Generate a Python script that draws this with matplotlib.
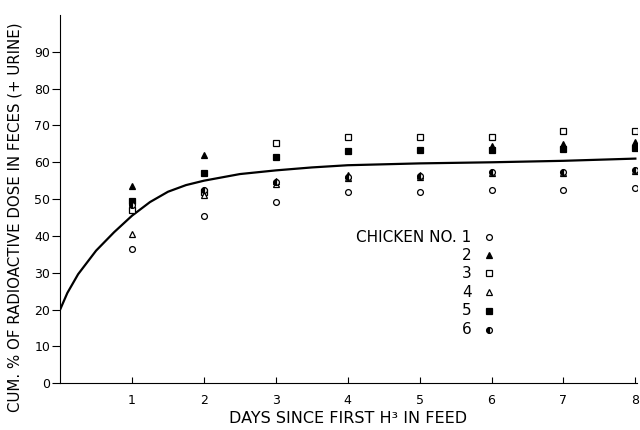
import matplotlib
matplotlib.use('Agg')
import matplotlib.pyplot as plt

plt.rcParams.update({'font.family': 'DejaVu Sans'})

days = [1, 2, 3, 4, 5, 6, 7, 8]

# cumulative % per chicken
chicken1 = [36.5, 45.5, 49.3, 51.8, 52.0, 52.6, 52.6, 53.0]
chicken2 = [53.5, 62.0, 55.0, 56.5, 56.5, 64.5, 65.0, 65.5]
chicken3 = [47.0, 52.0, 65.2, 66.8, 66.8, 67.0, 68.5, 68.5]
chicken4 = [40.5, 51.0, 54.0, 55.8, 56.0, 57.0, 57.0, 57.5]
chicken5 = [49.5, 57.0, 61.4, 63.0, 63.3, 63.3, 63.5, 64.0]
chicken6 = [48.5, 52.5, 54.6, 56.0, 56.3, 57.3, 57.3, 58.0]

# smooth fitted curve
curve_days = [0, 0.1, 0.25, 0.5, 0.75, 1, 1.25, 1.5, 1.75, 2, 2.5, 3, 3.5, 4, 5, 6, 7, 8]
curve_vals = [20, 24.5, 29.6, 36, 41, 45.5, 49.2, 52, 53.8, 55, 56.8, 57.8, 58.6, 59.2, 59.7, 60.0, 60.4, 61.0]

legend_labels = ['CHICKEN NO. 1', '2', '3', '4', '5', '6']

series = [chicken1, chicken2, chicken3, chicken4, chicken5, chicken6]
styles = [
    dict(marker='o', mfc='white', mec='black'),
    dict(marker='^', mfc='black', mec='black'),
    dict(marker='s', mfc='white', mec='black'),
    dict(marker='^', mfc='white', mec='black'),
    dict(marker='s', mfc='black', mec='black'),
    dict(marker='o', mfc='black', mec='black', fillstyle='left', markerfacecoloralt='white'),
]

fig = plt.figure(figsize=(6.4, 4.3), dpi=100)
ax = fig.add_axes([0.094, 0.109, 0.901, 0.856])

ax.plot(curve_days, curve_vals, color='black', linewidth=1.6, zorder=2)

for vals, st in zip(series, styles):
    ax.plot(days, vals, linestyle='none', markersize=4.2, markeredgewidth=0.9, zorder=3, **st)

# key, drawn as text + markers like the original
key_y = [39.7, 34.8, 29.9, 24.7, 19.7, 14.5]
for lab, st, ky in zip(legend_labels, styles, key_y):
    ax.text(5.72, ky, lab, ha='right', va='center', fontsize=11)
    ax.plot([5.97], [ky], linestyle='none', markersize=4.2, markeredgewidth=0.9, **st)

ax.set_xlim(0, 8.02)
ax.set_ylim(0, 100)
ax.set_xticks(days)
ax.set_yticks(range(0, 100, 10))
ax.spines['top'].set_visible(False)
ax.spines['right'].set_visible(False)
ax.tick_params(axis='x', direction='in', length=4, labelsize=9, pad=8)
ax.tick_params(axis='y', direction='out', length=6, labelsize=9, pad=1)

ax.set_xlabel('DAYS SINCE FIRST H³ IN FEED', fontsize=11.5)
ax.set_ylabel('CUM. % OF RADIOACTIVE DOSE IN FECES (+ URINE)', fontsize=10.8)
ax.yaxis.set_label_coords(-0.066, 0.45)
ax.xaxis.set_label_coords(0.5, -0.075)

fig.savefig('out.png', dpi=100)
